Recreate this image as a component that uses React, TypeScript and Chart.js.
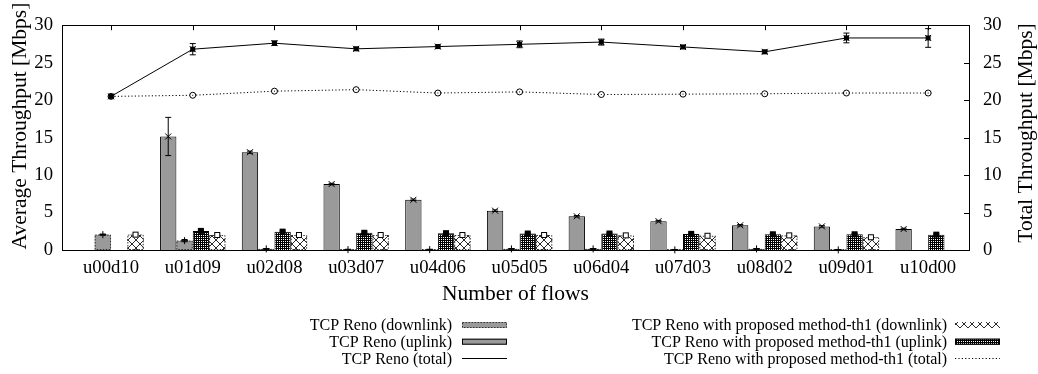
import React, { useEffect, useRef } from 'react';
import { Chart, registerables } from 'chart.js';

Chart.register(...registerables);

const categories = ['u00d10', 'u01d09', 'u02d08', 'u03d07', 'u04d06', 'u05d05', 'u06d04', 'u07d03', 'u08d02', 'u09d01', 'u10d00'];

const renoUplink = [null, 15.15, 13.05, 8.8, 6.7, 5.25, 4.5, 3.85, 3.3, 3.15, 2.8];
const renoUplinkErr = [0, 2.55, 0.15, 0.1, 0.1, 0.1, 0.1, 0.1, 0.1, 0.1, 0.1];
const renoDownlink = [2.05, 1.25, 0.15, 0.05, 0.05, 0.15, 0.15, 0.02, 0.15, 0.02, null];
const renoDownlinkErr = [0.08, 0.15, 0.05, 0.05, 0.05, 0.05, 0.05, 0.05, 0.05, 0.05, 0];
const propUplink = [null, 2.55, 2.45, 2.3, 2.25, 2.2, 2.2, 2.15, 2.1, 2.1, 2.05];
const propUplinkErr = [0, 0.1, 0.1, 0.1, 0.08, 0.08, 0.08, 0.08, 0.08, 0.08, 0.08];
const propDownlink = [2.05, 2.0, 2.0, 2.0, 2.0, 2.0, 1.95, 1.9, 1.95, 1.7, null];
const propDownlinkErr = [0.1, 0.1, 0.1, 0.1, 0.08, 0.08, 0.08, 0.08, 0.08, 0.08, 0];
const renoTotal = [20.5, 26.8, 27.6, 26.85, 27.15, 27.45, 27.75, 27.1, 26.45, 28.3, 28.3];
const renoTotalErr = [0.1, 0.75, 0.3, 0.2, 0.2, 0.45, 0.4, 0.2, 0.2, 0.65, 1.25];
const propTotal = [20.5, 20.65, 21.2, 21.4, 20.95, 21.1, 20.75, 20.8, 20.85, 20.95, 20.95];
const propTotalErr = [0.05, 0.05, 0.05, 0.05, 0.05, 0.05, 0.05, 0.05, 0.05, 0.05, 0.05];

const yMin = 0;
const yMax = 30;
const yStep = 5;

const labelRenoDown = 'TCP Reno (downlink)';
const labelRenoUp = 'TCP Reno (uplink)';
const labelRenoTotal = 'TCP Reno (total)';
const labelPropDown = 'TCP Reno with proposed method-th1 (downlink)';
const labelPropUp = 'TCP Reno with proposed method-th1 (uplink)';
const labelPropTotal = 'TCP Reno with proposed method-th1 (total)';

const yTitle = 'Average Throughput [Mbps]';
const y2Title = 'Total Throughput [Mbps]';
const xTitle = 'Number of flows';

const SERIF = '"Liberation Serif", "Times New Roman", Times, serif';
const GRAY = '#9a9a9a';

function makeChecker(ctx: CanvasRenderingContext2D) {
  const c = document.createElement('canvas');
  c.width = 4; c.height = 4;
  const g = c.getContext('2d')!;
  g.fillStyle = '#000';
  g.fillRect(0, 0, 4, 4);
  g.fillStyle = '#fff';
  g.fillRect(1, 1, 1, 1);
  g.fillRect(3, 3, 1, 1);
  g.fillRect(1, 3, 1, 1);
  g.fillRect(3, 1, 1, 1);
  return ctx.createPattern(c, 'repeat')!;
}

function makeCross(ctx: CanvasRenderingContext2D) {
  const c = document.createElement('canvas');
  const n = 8;
  c.width = n; c.height = n;
  const g = c.getContext('2d')!;
  g.fillStyle = '#fff';
  g.fillRect(0, 0, n, n);
  g.fillStyle = '#2a2a2a';
  for (let i = 0; i < n; i++) {
    g.fillRect(i, i, 1, 1);
    g.fillRect(n - 1 - i, i, 1, 1);
  }
  return ctx.createPattern(c, 'repeat')!;
}

function drawMarker(ctx: CanvasRenderingContext2D, kind: string, x: number, y: number) {
  ctx.save();
  ctx.setLineDash([]);
  ctx.strokeStyle = '#000';
  ctx.fillStyle = '#000';
  ctx.lineWidth = 1;
  const s = 3;
  if (kind === 'x') {
    ctx.beginPath();
    ctx.moveTo(x - s, y - s); ctx.lineTo(x + s, y + s);
    ctx.moveTo(x - s, y + s); ctx.lineTo(x + s, y - s);
    ctx.stroke();
  } else if (kind === '+') {
    ctx.beginPath();
    ctx.moveTo(x - 3.5, y); ctx.lineTo(x + 3.5, y);
    ctx.moveTo(x, y - 3.5); ctx.lineTo(x, y + 3.5);
    ctx.stroke();
  } else if (kind === 'sqFill') {
    ctx.fillRect(x - 3, y - 3, 6, 6);
  } else if (kind === 'sqOpen') {
    ctx.fillStyle = '#fff';
    ctx.fillRect(x - 3, y - 3, 6, 6);
    ctx.strokeRect(x - 2.5, y - 2.5, 5, 5);
  } else if (kind === 'circ') {
    ctx.fillStyle = '#fff';
    ctx.beginPath();
    ctx.arc(x, y, 3, 0, Math.PI * 2);
    ctx.fill();
    ctx.stroke();
    ctx.fillStyle = '#000';
    ctx.fillRect(x - 0.5, y - 0.5, 1, 1);
  } else if (kind === 'sqLine') {
    ctx.fillRect(x - 2.5, y - 2.5, 5, 5);
  }
  ctx.restore();
}

function errBar(ctx: CanvasRenderingContext2D, x: number, yh: number, yl: number) {
  ctx.save();
  ctx.setLineDash([]);
  ctx.strokeStyle = '#000';
  ctx.lineWidth = 1;
  ctx.beginPath();
  ctx.moveTo(x, yh); ctx.lineTo(x, yl);
  ctx.moveTo(x - 3, yh); ctx.lineTo(x + 3, yh);
  ctx.moveTo(x - 3, yl); ctx.lineTo(x + 3, yl);
  ctx.stroke();
  ctx.restore();
}

export default function App() {
  const ref = useRef<HTMLCanvasElement | null>(null);

  useEffect(() => {
    const canvas = ref.current!;
    const ctx0 = canvas.getContext('2d')!;
    const checker = makeChecker(ctx0);
    const cross = makeCross(ctx0);

    const barSpecs = [
      { ds: 0, values: renoUplink, err: renoUplinkErr, marker: 'x', dotted: false },
      { ds: 1, values: renoDownlink, err: renoDownlinkErr, marker: '+', dotted: true },
      { ds: 2, values: propUplink, err: propUplinkErr, marker: 'sqFill', dotted: false },
      { ds: 3, values: propDownlink, err: propDownlinkErr, marker: 'sqOpen', dotted: true },
    ];
    const lineSpecs = [
      { ds: 5, values: propTotal, err: propTotalErr, marker: 'circ' },
      { ds: 4, values: renoTotal, err: renoTotalErr, marker: 'x' },
    ];

    const gnuplot = {
      id: 'gnuplotLook',
      afterDatasetsDraw(chart: any) {
        const ctx: CanvasRenderingContext2D = chart.ctx;
        const ys = chart.scales.y;
        const y2s = chart.scales.y2;
        for (const spec of barSpecs) {
          const meta = chart.getDatasetMeta(spec.ds);
          spec.values.forEach((v, j) => {
            if (v === null || v === undefined) return;
            const el = meta.data[j];
            if (!el) return;
            const p = el.getProps(['x', 'y', 'base', 'width'], true);
            if (spec.dotted) {
              ctx.save();
              ctx.strokeStyle = '#333';
              ctx.lineWidth = 1;
              ctx.setLineDash([1.5, 1.5]);
              ctx.strokeRect(p.x - p.width / 2 + 0.5, p.y + 0.5, p.width - 1, p.base - p.y - 1);
              ctx.restore();
            }
            const e = spec.err[j] || 0;
            const yh = ys.getPixelForValue(v + e);
            const yl = ys.getPixelForValue(Math.max(0, v - e));
            errBar(ctx, p.x, yh, yl);
            drawMarker(ctx, spec.marker, p.x, p.y);
          });
        }
        for (const spec of lineSpecs) {
          const meta = chart.getDatasetMeta(spec.ds);
          spec.values.forEach((v, j) => {
            const el = meta.data[j];
            if (!el) return;
            const p = el.getProps(['x', 'y'], true);
            const e = spec.err[j] || 0;
            errBar(ctx, p.x, y2s.getPixelForValue(v + e), y2s.getPixelForValue(v - e));
            drawMarker(ctx, spec.marker, p.x, p.y);
            if (spec.marker === 'x') drawMarker(ctx, 'sqLine', p.x, p.y);
          });
        }
      },
      afterDraw(chart: any) {
        const ctx: CanvasRenderingContext2D = chart.ctx;
        const { left, right, top, bottom } = chart.chartArea;
        const xs = chart.scales.x;
        const y2s = chart.scales.y2;
        ctx.save();
        ctx.setLineDash([]);
        ctx.strokeStyle = '#000';
        ctx.lineWidth = 1;
        ctx.strokeRect(Math.round(left) + 0.5, Math.round(top) + 0.5, Math.round(right - left), Math.round(bottom - top));
        ctx.beginPath();
        categories.forEach((_, i) => {
          const x = Math.round(xs.getPixelForValue(i)) + 0.5;
          ctx.moveTo(x, top);
          ctx.lineTo(x, top + 5);
        });
        for (let v = yMin; v <= yMax; v += yStep) {
          const y = Math.round(y2s.getPixelForValue(v)) + 0.5;
          ctx.moveTo(right - 5, y);
          ctx.lineTo(right, y);
        }
        ctx.stroke();

        // axis titles
        ctx.fillStyle = '#000';
        ctx.font = `21.5px ${SERIF}`;
        ctx.textAlign = 'center';
        ctx.textBaseline = 'alphabetic';
        ctx.fillText(xTitle, (left + right) / 2, 300);
        ctx.save();
        ctx.translate(26, 126);
        ctx.rotate(-Math.PI / 2);
        ctx.fillText(yTitle, 0, 0);
        ctx.restore();
        ctx.save();
        ctx.translate(1031.5, 133);
        ctx.rotate(-Math.PI / 2);
        ctx.fillText(y2Title, 0, 0);
        ctx.restore();

        // legend
        const rows = [325, 341.7, 358.3];
        const cols = [
          { tr: 452, sx: 462, items: [
            { label: labelRenoDown, kind: 'bar', fill: GRAY, dotted: true, border: false },
            { label: labelRenoUp, kind: 'bar', fill: GRAY, dotted: false, border: true },
            { label: labelRenoTotal, kind: 'line', dash: [] as number[] },
          ] },
          { tr: 947, sx: 955, items: [
            { label: labelPropDown, kind: 'bar', fill: cross as any, dotted: false, border: false },
            { label: labelPropUp, kind: 'bar', fill: checker as any, dotted: false, border: true },
            { label: labelPropTotal, kind: 'line', dash: [1.2, 2.2] },
          ] },
        ];
        ctx.font = `16px ${SERIF}`;
        ctx.textAlign = 'right';
        ctx.textBaseline = 'middle';
        const sw = 45;
        for (const col of cols) {
          col.items.forEach((it: any, r) => {
            const y = rows[r];
            ctx.fillStyle = '#000';
            ctx.fillText(it.label, col.tr, y + 1);
            if (it.kind === 'bar') {
              ctx.fillStyle = it.fill;
              ctx.fillRect(col.sx, y - 3, sw, 6);
              if (it.border || it.dotted) {
                ctx.save();
                ctx.strokeStyle = it.dotted ? '#333' : '#000';
                ctx.setLineDash(it.dotted ? [1.5, 1.5] : []);
                ctx.strokeRect(col.sx + 0.5, y - 3 + 0.5, sw - 1, 5);
                ctx.restore();
              }
            } else {
              ctx.save();
              ctx.strokeStyle = '#000';
              ctx.setLineDash(it.dash);
              ctx.beginPath();
              ctx.moveTo(col.sx, Math.round(y) + 0.5);
              ctx.lineTo(col.sx + sw, Math.round(y) + 0.5);
              ctx.stroke();
              ctx.restore();
            }
          });
        }
        ctx.restore();
      },
    };

    const toXY = (arr: (number | null)[]) => arr.map((v, i) => ({ x: i, y: v }));

    const chart = new Chart(canvas, {
      type: 'bar',
      data: {
        datasets: [
          { type: 'bar', label: labelRenoUp, data: toXY(renoUplink) as any, backgroundColor: GRAY, borderColor: '#000', borderWidth: 1, yAxisID: 'y', categoryPercentage: 0.8, barPercentage: 1.0, order: 2 },
          { type: 'bar', label: labelRenoDown, data: toXY(renoDownlink) as any, backgroundColor: GRAY, borderWidth: 0, yAxisID: 'y', categoryPercentage: 0.8, barPercentage: 1.0, order: 2 },
          { type: 'bar', label: labelPropUp, data: toXY(propUplink) as any, backgroundColor: checker as any, borderColor: '#000', borderWidth: 1, yAxisID: 'y', categoryPercentage: 0.8, barPercentage: 1.0, order: 2 },
          { type: 'bar', label: labelPropDown, data: toXY(propDownlink) as any, backgroundColor: cross as any, borderWidth: 0, yAxisID: 'y', categoryPercentage: 0.8, barPercentage: 1.0, order: 2 },
          { type: 'line', label: labelRenoTotal, data: toXY(renoTotal) as any, borderColor: '#000', borderWidth: 1, pointRadius: 0, yAxisID: 'y2', order: 1 },
          { type: 'line', label: labelPropTotal, data: toXY(propTotal) as any, borderColor: '#000', borderWidth: 1, borderDash: [1.2, 2.2], pointRadius: 0, yAxisID: 'y2', order: 1 },
        ] as any,
      },
      options: {
        animation: false,
        responsive: true,
        maintainAspectRatio: false,
        layout: { padding: { top: 16, left: 0, right: 0, bottom: 0 } },
        plugins: { legend: { display: false }, tooltip: { enabled: false } },
        scales: {
          x: {
            type: 'linear',
            position: 'bottom',
            min: -0.6,
            max: 10.5,
            offset: false,
            grid: { display: false, drawTicks: false },
            border: { display: false },
            afterBuildTicks: (s: any) => { s.ticks = categories.map((_, i) => ({ value: i })); },
            ticks: {
              autoSkip: false,
              maxRotation: 0,
              padding: 7,
              color: '#000',
              font: { family: SERIF, size: 18.7 },
              callback: (v: any) => categories[Math.round(Number(v))] ?? '',
            },
            afterFit: (s: any) => { s.height = 124; },
          },
          y: {
            type: 'linear',
            position: 'left',
            min: yMin,
            max: yMax,
            grid: { display: false, drawTicks: false },
            border: { display: false },
            ticks: { stepSize: yStep, padding: 9, color: '#000', font: { family: SERIF, size: 18.7 } },
            afterFit: (s: any) => { s.width = 62; },
          },
          y2: {
            type: 'linear',
            position: 'right',
            min: yMin,
            max: yMax,
            grid: { display: false, drawTicks: false },
            border: { display: false },
            ticks: { stepSize: yStep, padding: 14, color: '#000', font: { family: SERIF, size: 18.7 } },
            afterFit: (s: any) => { s.width = 69; },
          },
        },
      } as any,
      plugins: [gnuplot],
    });
    return () => chart.destroy();
  }, []);

  return (
    <div style={{ position: 'fixed', left: 0, top: 0, width: 1038, height: 374, background: '#fff' }}>
      <canvas ref={ref} />
    </div>
  );
}
